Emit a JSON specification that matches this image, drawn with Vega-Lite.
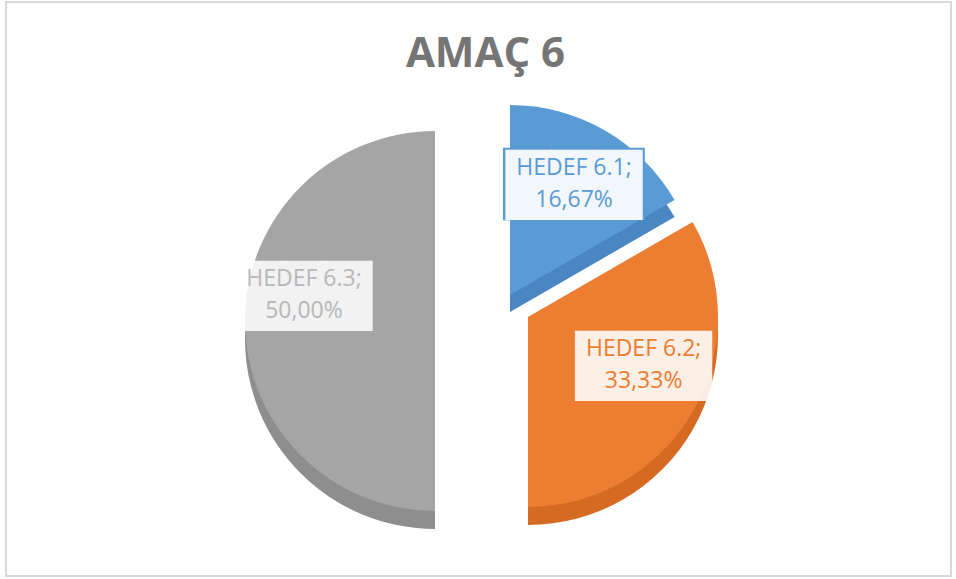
{
  "$schema": "https://vega.github.io/schema/vega-lite/v6.json",
  "autosize": {"type": "fit", "contains": "padding"},
  "width": 956,
  "height": 579,
  "padding": {"left": 6, "top": 2, "right": 5, "bottom": 3},
  "background": "white",
  "view": {"stroke": "#d9d9d9", "strokeWidth": 2},
  "config": {"view": {"stroke": "#d9d9d9", "strokeWidth": 2}},
  "title": {"text": "AMAÇ 6", "fontSize": 42, "font": "Open Sans", "fontWeight": "bold", "color": "#757575", "offset": -74, "anchor": "middle", "dx": 7},
  "data": {"values": [
    {"hedef": "HEDEF 6.1", "value": 16.67, "order": 1},
    {"hedef": "HEDEF 6.2", "value": 33.33, "order": 2},
    {"hedef": "HEDEF 6.3", "value": 50.00, "order": 3}
  ]},
  "transform": [
    {"stack": "value", "groupby": [], "sort": [{"field": "order", "order": "ascending"}], "as": ["t0", "t1"]},
    {"calculate": "(datum.t0 + datum.t1) / 2", "as": "mid"},
    {"calculate": "[datum.hedef + ';', replace(format(datum.value, '.2f'), '.', ',') + '%']", "as": "label"}
  ],
  "layer": [
    {"transform": [{"filter": "datum.hedef == 'HEDEF 6.3'"}],
     "mark": {"type": "arc", "outerRadius": 190, "color": "#8e8e8e", "xOffset": -43.5, "yOffset": 50},
     "encoding": {"theta": {"field": "t0", "type": "quantitative", "scale": {"domain": [0, 100], "range": [0, 6.283185307179586]}}, "theta2": {"field": "t1"}}},
    {"transform": [{"filter": "datum.hedef == 'HEDEF 6.1'"}],
     "mark": {"type": "arc", "outerRadius": 190, "color": "#4a86c2", "xOffset": 31.5, "yOffset": 23},
     "encoding": {"theta": {"field": "t0", "type": "quantitative", "scale": {"domain": [0, 100], "range": [0, 6.283185307179586]}}, "theta2": {"field": "t1"}}},
    {"transform": [{"filter": "datum.hedef == 'HEDEF 6.2'"}],
     "mark": {"type": "arc", "outerRadius": 190, "color": "#d56a22", "xOffset": 49.5, "yOffset": 46},
     "encoding": {"theta": {"field": "t0", "type": "quantitative", "scale": {"domain": [0, 100], "range": [0, 6.283185307179586]}}, "theta2": {"field": "t1"}}},
    {"transform": [{"filter": "datum.hedef == 'HEDEF 6.3'"}],
     "mark": {"type": "arc", "outerRadius": 190, "color": "#a5a5a5", "xOffset": -43.5, "yOffset": 32},
     "encoding": {"theta": {"field": "t0", "type": "quantitative", "scale": {"domain": [0, 100], "range": [0, 6.283185307179586]}}, "theta2": {"field": "t1"}}},
    {"transform": [{"filter": "datum.hedef == 'HEDEF 6.1'"}],
     "mark": {"type": "arc", "outerRadius": 190, "color": "#5b9bd5", "xOffset": 31.5, "yOffset": 6},
     "encoding": {"theta": {"field": "t0", "type": "quantitative", "scale": {"domain": [0, 100], "range": [0, 6.283185307179586]}}, "theta2": {"field": "t1"}}},
    {"transform": [{"filter": "datum.hedef == 'HEDEF 6.2'"}],
     "mark": {"type": "arc", "outerRadius": 190, "color": "#ed7d31", "xOffset": 49.5, "yOffset": 28},
     "encoding": {"theta": {"field": "t0", "type": "quantitative", "scale": {"domain": [0, 100], "range": [0, 6.283185307179586]}}, "theta2": {"field": "t1"}}},

    {"transform": [{"filter": "datum.hedef == 'HEDEF 6.1'"}],
     "mark": {"type": "text", "text": "███", "font": "DejaVu Sans", "fontSize": 61, "align": "center", "baseline": "middle", "color": "#5b9bd5", "xOffset": 31.5, "yOffset": 6, "dy": 3},
     "encoding": {"theta": {"field": "mid", "type": "quantitative"}, "radius": {"value": 128}}},
    {"transform": [{"filter": "datum.hedef == 'HEDEF 6.1'"}],
     "mark": {"type": "text", "text": "███", "font": "DejaVu Sans", "fontSize": 59, "align": "center", "baseline": "middle", "color": "white", "opacity": 0.92, "xOffset": 31.5, "yOffset": 6, "dy": 3},
     "encoding": {"theta": {"field": "mid", "type": "quantitative"}, "radius": {"value": 128}}},
    {"transform": [{"filter": "datum.hedef == 'HEDEF 6.1'"}],
     "mark": {"type": "text", "font": "Open Sans", "fontSize": 23, "lineHeight": 32, "align": "center", "baseline": "middle", "color": "#5b9bd5", "xOffset": 31.5, "yOffset": 6, "dy": -16},
     "encoding": {"theta": {"field": "mid", "type": "quantitative"}, "radius": {"value": 128}, "text": {"field": "label"}}},

    {"transform": [{"filter": "datum.hedef == 'HEDEF 6.2'"}],
     "mark": {"type": "text", "text": "███", "font": "DejaVu Sans", "fontSize": 59, "align": "center", "baseline": "middle", "color": "white", "opacity": 0.88, "xOffset": 49.5, "yOffset": 28, "dx": 10, "dy": -10},
     "encoding": {"theta": {"field": "mid", "type": "quantitative"}, "radius": {"value": 122}}},
    {"transform": [{"filter": "datum.hedef == 'HEDEF 6.2'"}],
     "mark": {"type": "text", "font": "Open Sans", "fontSize": 23, "lineHeight": 32, "align": "center", "baseline": "middle", "color": "#ed7d31", "xOffset": 49.5, "yOffset": 28, "dx": 10, "dy": -29},
     "encoding": {"theta": {"field": "mid", "type": "quantitative"}, "radius": {"value": 122}, "text": {"field": "label"}}},

    {"transform": [{"filter": "datum.hedef == 'HEDEF 6.3'"}],
     "mark": {"type": "text", "text": "███", "font": "DejaVu Sans", "fontSize": 59, "align": "center", "baseline": "middle", "color": "white", "opacity": 0.86, "xOffset": -43.5, "yOffset": 32, "dx": -3, "dy": -23},
     "encoding": {"theta": {"field": "mid", "type": "quantitative"}, "radius": {"value": 128}}},
    {"transform": [{"filter": "datum.hedef == 'HEDEF 6.3'"}],
     "mark": {"type": "text", "font": "Open Sans", "fontSize": 23, "lineHeight": 32, "align": "center", "baseline": "middle", "color": "#b8b8b8", "xOffset": -43.5, "yOffset": 32, "dx": -3, "dy": -42},
     "encoding": {"theta": {"field": "mid", "type": "quantitative"}, "radius": {"value": 128}, "text": {"field": "label"}}}
  ]
}
